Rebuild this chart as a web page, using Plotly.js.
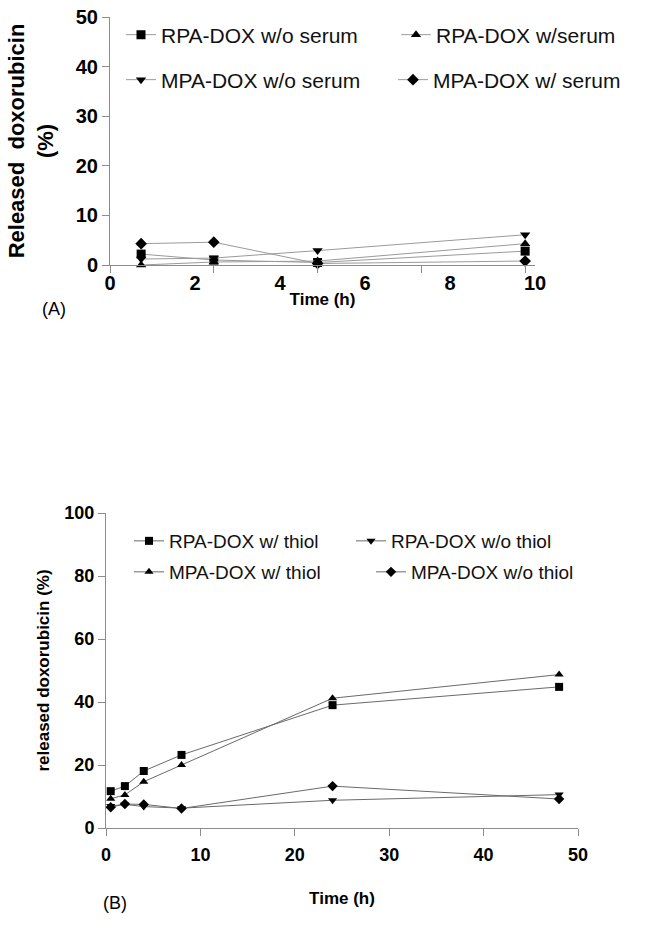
<!DOCTYPE html>
<html>
<head>
<meta charset="utf-8">
<script src="https://cdn.plot.ly/plotly-3.0.1.min.js"></script>
<style>html,body{margin:0;padding:0;background:#fff;}#chart{width:646px;height:935px;}</style>
</head>
<body>
<div id="chart"></div>
<script>
// Panel A: release with / without serum
var timeA = [0.6, 2, 4, 8];
var rpaWithoutSerum = [2.2, 1.0, 0.5, 2.8];
var rpaWithSerum = [0.0, 0.6, 0.8, 4.3];
var mpaWithoutSerum = [1.2, 1.4, 2.9, 6.1];
var mpaWithSerum = [4.3, 4.6, 0.3, 0.8];
var namesA = ["RPA-DOX w/o serum", "RPA-DOX w/serum", "MPA-DOX w/o serum", "MPA-DOX w/ serum"];
var ticksA = [0, 2, 4, 6, 8];
var labelValsA = [0, 2, 4, 6, 8, 10];
var labelsA = ["0", "2", "4", "6", "8", "10"];

// Panel B: release with / without thiol
var timeB = [0.5, 2, 4, 8, 24, 48];
var rpaWithThiol = [11.7, 13.3, 18.1, 23.2, 39.0, 44.8];
var rpaWithoutThiol = [7.0, 7.5, 6.8, 6.3, 8.8, 10.6];
var mpaWithThiol = [9.3, 10.5, 14.7, 20.0, 41.2, 48.7];
var mpaWithoutThiol = [6.6, 7.6, 7.5, 6.2, 13.3, 9.2];
var namesB = ["RPA-DOX w/ thiol", "RPA-DOX w/o thiol", "MPA-DOX w/ thiol", "MPA-DOX w/o thiol"];

var W = 646, H = 935;
var FONT = "Liberation Sans, Arial, sans-serif";
var px = function (v) { return v / W; };
var py = function (v) { return 1 - v / H; };

function tr(x, y, name, sym, size, lineColor, xa, ya, leg, lw) {
  return {
    x: x, y: y, name: name, type: "scatter", mode: "lines+markers",
    xaxis: xa, yaxis: ya, legend: leg, legendwidth: lw, cliponaxis: false,
    line: {color: lineColor, width: 1},
    marker: {symbol: sym, size: size, color: "#000"}
  };
}

var gA = "#9a9a9a", gB = "#6a6a6a";
var data = [
  tr(timeA, rpaWithoutSerum, namesA[0], "square", 9, gA, "x", "y", "legend", 230),
  tr(timeA, rpaWithSerum, namesA[1], "triangle-up", 9, gA, "x", "y", "legend", 200),
  tr(timeA, mpaWithoutSerum, namesA[2], "triangle-down", 9, gA, "x", "y", "legend2", 227),
  tr(timeA, mpaWithSerum, namesA[3], "diamond", 9, gA, "x", "y", "legend2", 200),
  tr(timeB, rpaWithThiol, namesB[0], "square", 8, gB, "x3", "y3", "legend3", 177),
  tr(timeB, rpaWithoutThiol, namesB[1], "triangle-down", 8, gB, "x3", "y3", "legend3", 178),
  tr(timeB, mpaWithThiol, namesB[2], "triangle-up", 8, gB, "x3", "y3", "legend4", 197),
  tr(timeB, mpaWithoutThiol, namesB[3], "diamond", 8, gB, "x3", "y3", "legend4", 178),
  // carrier so the label axis of panel A is built (draws nothing)
  {x: [null], y: [null], type: "scatter", mode: "markers", xaxis: "x2", yaxis: "y",
   showlegend: false, hoverinfo: "skip"}
];

var axCol = "#8c8c8c";
var tickFontA = {family: FONT, size: 20, color: "#000", weight: "bold"};
var tickFontB = {family: FONT, size: 18, color: "#000", weight: "bold"};

function leg(x, yc, fs) {
  return {
    orientation: "h", x: px(x), xanchor: "left", y: py(yc), yanchor: "middle",
    font: {family: FONT, size: fs, color: "#111"},
    bgcolor: "rgba(0,0,0,0)", borderwidth: 0, itemclick: false
  };
}

var layout = {
  width: W, height: H,
  margin: {l: 0, r: 0, t: 0, b: 0, pad: 0},
  paper_bgcolor: "#fff", plot_bgcolor: "#fff",
  font: {family: FONT, color: "#000"},
  showlegend: true,
  // data axis of panel A (tick marks)
  xaxis: {
    domain: [px(110), px(535)], range: [0, 8.19], anchor: "y",
    tickmode: "array", tickvals: ticksA, showticklabels: false,
    ticks: "outside", ticklen: 7, tickcolor: axCol, showline: true, linecolor: axCol,
    showgrid: false, zeroline: false, fixedrange: true
  },
  // label axis of panel A (tick labels only)
  xaxis2: {
    overlaying: "x", anchor: "y", side: "bottom",
    domain: [px(110), px(535)], range: [0, 10],
    tickmode: "array", tickvals: labelValsA, ticktext: labelsA,
    ticks: "", showline: false, showgrid: false, zeroline: false,
    tickfont: tickFontA, ticklabelstandoff: 4,
    title: {text: "Time (h)", font: {family: FONT, size: 17, weight: "bold", color: "#000"}, standoff: 0}
  },
  yaxis: {
    domain: [py(265), py(17)], range: [0, 50], anchor: "x",
    tickvals: [0, 10, 20, 30, 40, 50],
    ticks: "outside", ticklen: 7, tickcolor: axCol, showline: true, linecolor: axCol,
    showgrid: false, zeroline: false, tickfont: tickFontA,
    title: {text: "Released  doxorubicin<br>(%)", font: {family: FONT, size: 22, weight: "bold", color: "#000"}, standoff: 16}
  },
  xaxis3: {
    domain: [px(106), px(578)], range: [0, 50], anchor: "y3",
    tickvals: [0, 10, 20, 30, 40, 50],
    ticks: "outside", ticklen: 7, tickcolor: axCol, showline: true, linecolor: axCol,
    showgrid: false, zeroline: false, tickfont: tickFontB, ticklabelstandoff: 3,
    title: {text: "Time (h)", font: {family: FONT, size: 17, weight: "bold", color: "#000"}, standoff: 28}
  },
  yaxis3: {
    domain: [py(828), py(513)], range: [0, 100], anchor: "x3",
    tickvals: [0, 20, 40, 60, 80, 100],
    ticks: "outside", ticklen: 7, tickcolor: axCol, showline: true, linecolor: axCol,
    showgrid: false, zeroline: false, tickfont: tickFontB,
    title: {text: "released doxorubicin (%)", font: {family: FONT, size: 17, weight: "bold", color: "#000"}, standoff: 10}
  },
  legend: leg(121, 35, 21),
  legend2: leg(121, 80, 21),
  legend3: leg(129, 541, 19),
  legend4: leg(129, 572, 19),
  annotations: [
    {text: "(A)", x: px(40), y: py(297), xref: "paper", yref: "paper", showarrow: false,
     font: {family: FONT, size: 18, color: "#000"}},
    {text: "(B)", x: px(101), y: py(915), xref: "paper", yref: "paper", showarrow: false,
     font: {family: FONT, size: 18, color: "#000"}}
  ]
};

Plotly.newPlot("chart", data, layout, {staticPlot: true, displayModeBar: false});
</script>
</body>
</html>
